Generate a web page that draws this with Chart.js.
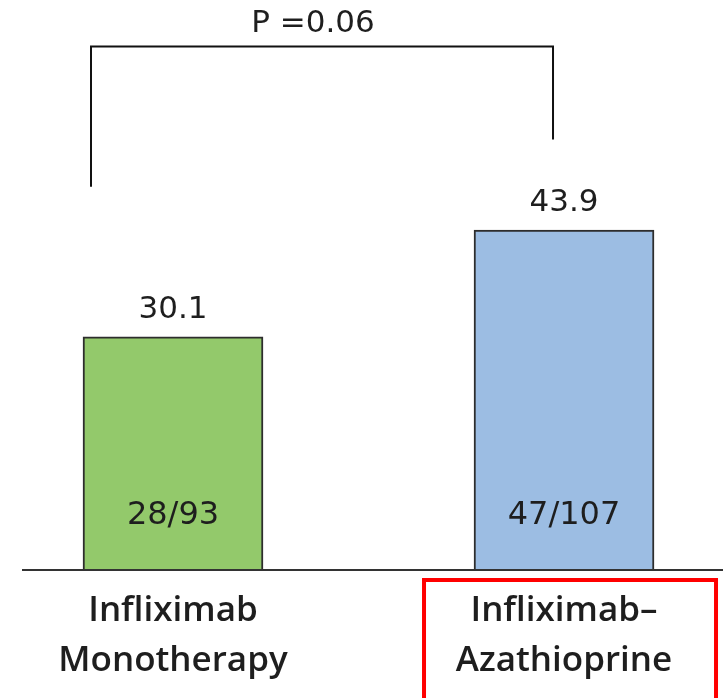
<!DOCTYPE html>
<html>
<head>
<meta charset="utf-8">
<style>
  html, body { margin: 0; padding: 0; background: #ffffff; }
  #wrap { width: 723px; height: 698px; position: relative; }
</style>
<script src="https://cdn.jsdelivr.net/npm/chart.js@4/dist/chart.umd.min.js"></script>
</head>
<body>
<div id="wrap"><canvas id="chart" width="723" height="698"></canvas></div>
<script>
// Response rates (%) for the two treatment groups
const categories = [['Infliximab', 'Monotherapy'], ['Infliximab\u2013', 'Azathioprine']];
const rates = [30.1, 43.9];
const counts = ['28/93', '47/107'];
const pValueText = 'P =0.06';
const barColors = ['#93c96b', '#9cbde3'];

// bracket heights, in y-axis units: top bar, left and right arm ends
const bracketTop = 67.6;
const bracketEnds = [49.5, 55.6];

const NUM_FONT = '"DejaVu Sans", sans-serif';
const LABEL_FONT = '"Open Sans", "DejaVu Sans", sans-serif';

const overlay = {
  id: 'overlay',
  afterDatasetsDraw(chart) {
    const { ctx, scales: { x, y } } = chart;
    const base = y.getPixelForValue(0);
    ctx.save();

    // baseline
    ctx.strokeStyle = '#333';
    ctx.lineWidth = 2;
    ctx.beginPath();
    ctx.moveTo(chart.chartArea.left, base);
    ctx.lineTo(chart.width, base);
    ctx.stroke();

    ctx.fillStyle = '#1e1e1e';
    ctx.textAlign = 'center';
    ctx.textBaseline = 'middle';
    rates.forEach((v, i) => {
      const cx = x.getPixelForValue(i);
      const top = y.getPixelForValue(v);
      ctx.font = '31px ' + NUM_FONT;
      ctx.fillText(v.toFixed(1), cx, top - 27);
      ctx.font = '32px ' + NUM_FONT;
      ctx.fillText(counts[i], cx, base - 54);
      // category label under the axis
      ctx.font = '600 35px ' + LABEL_FONT;
      categories[i].forEach((line, k) => {
        ctx.fillText(line, cx, base + 41 + k * 50);
      });
    });

    // significance bracket
    const xl = x.getPixelForValue(0) - 82;
    const xr = x.getPixelForValue(1) - 11;
    const yt = y.getPixelForValue(bracketTop);
    ctx.strokeStyle = '#111';
    ctx.lineWidth = 2;
    ctx.beginPath();
    ctx.moveTo(xl, y.getPixelForValue(bracketEnds[0]));
    ctx.lineTo(xl, yt);
    ctx.lineTo(xr, yt);
    ctx.lineTo(xr, y.getPixelForValue(bracketEnds[1]));
    ctx.stroke();
    ctx.font = '31px ' + NUM_FONT;
    ctx.fillText(pValueText, 313, yt - 23);

    // highlight box around the combination-therapy label
    ctx.strokeStyle = '#ff0000';
    ctx.lineWidth = 4;
    const bx = x.getPixelForValue(1);
    ctx.strokeRect(bx - 140, base + 10, 292, 140);
    ctx.restore();
  }
};

new Chart(document.getElementById('chart'), {
  type: 'bar',
  data: {
    datasets: [{
      data: rates.map((v, i) => ({ x: i, y: v })),
      backgroundColor: barColors,
      borderColor: '#2d2d2d',
      borderWidth: 2,
      borderSkipped: 'bottom',
      barThickness: 180
    }]
  },
  options: {
    responsive: false,
    animation: false,
    layout: { padding: { left: 22, right: 0, top: 28, bottom: 128 } },
    plugins: { legend: { display: false }, tooltip: { enabled: false } },
    scales: {
      x: { type: 'linear', offset: false, min: -0.3862, max: 1.4066, display: false },
      y: { min: 0, max: 70, display: false }
    }
  },
  plugins: [overlay]
});
</script>
</body>
</html>
